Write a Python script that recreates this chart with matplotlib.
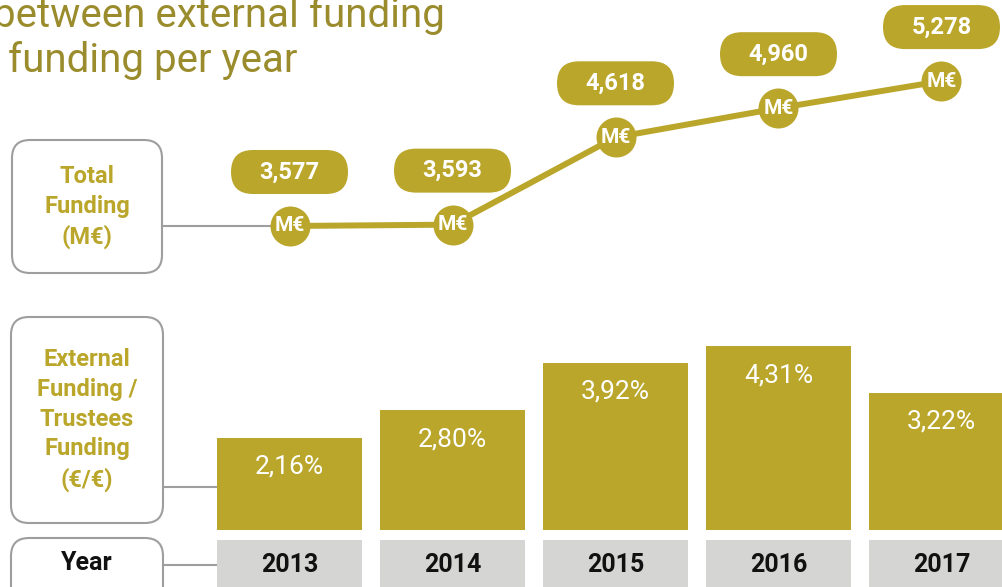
import numpy as np
import matplotlib
matplotlib.use('Agg')
import matplotlib.pyplot as plt
from matplotlib.patches import FancyBboxPatch
from matplotlib.transforms import ScaledTranslation

plt.rcParams['font.family'] = ['Roboto', 'DejaVu Sans']

# --- data ---
years = ['2013', '2014', '2015', '2016', '2017']
total_funding = [3577, 3593, 4618, 4960, 5278]          # M€
total_labels = ['3,577', '3,593', '4,618', '4,960', '5,278']
ratio_pct = [2.16, 2.80, 3.92, 4.31, 3.22]              # external / trustees funding
ratio_labels = ['2,16%', '2,80%', '3,92%', '4,31%', '3,22%']

GOLD = '#BAA62A'
TITLE = '#9A8C2C'
FRAME = '#9E9E9E'
YEARBOX = '#D5D6D3'

W, H = 1003, 587
fig = plt.figure(figsize=(W / 100, H / 100), dpi=100)

# pixel-space layer for frames, connectors and title
ax_px = fig.add_axes([0, 0, 1, 1])
ax_px.set_xlim(0, W)
ax_px.set_ylim(H, 0)
ax_px.axis('off')

x = np.arange(len(years))
# category i is centred at 289.5 + 163*i px
xlim = (-289.5 / 163, (W - 289.5) / 163)

# --- bars ---
px_per_pct = 42.7
base = 57  # px from bottom
ax_bar = fig.add_axes([0, 0, 1, 1])
ax_bar.set_xlim(xlim)
ax_bar.set_ylim(-base / px_per_pct, (H - base) / px_per_pct)
ax_bar.axis('off')

ax_bar.bar(x, ratio_pct, width=0.89, color=GOLD, linewidth=0)
for xi, v, lbl in zip(x, ratio_pct, ratio_labels):
    ax_bar.annotate(lbl, (xi, v), xytext=(0, -21), textcoords='offset points',
                    ha='center', va='center', color='white', fontsize=19)

# year row
year_top = (47 - base) / px_per_pct
ax_bar.bar(x, year_top + 1.6, bottom=-1.6, width=0.89, color=YEARBOX, linewidth=0)
for xi, yr in zip(x, years):
    ax_bar.text(xi, (22 - base) / px_per_pct, yr, ha='center', va='center',
                fontsize=18, fontweight='bold', color='#111111')

# --- total funding line ---
px_per_meur = 0.0852
ax_line = fig.add_axes([0, 0, 1, 1])
ax_line.set_xlim(xlim)
ax_line.set_ylim(3577 - 361 / px_per_meur, 3577 + 226 / px_per_meur)
ax_line.axis('off')

ax_line.plot(x, total_funding, color=GOLD, lw=4.3, marker='o', ms=28.8,
             mew=0, solid_capstyle='round')
for xi, v, lbl in zip(x, total_funding, total_labels):
    ax_line.text(xi, v, 'M€', ha='center', va='center', color='white',
                 fontsize=15, fontweight='bold')
    tr = fig.dpi_scale_trans + ScaledTranslation(xi, v, ax_line.transData)
    pill = FancyBboxPatch((-0.585, 0.54 - 0.22), 1.17, 0.44,
                          boxstyle='round,pad=0,rounding_size=0.22',
                          fc=GOLD, ec='none', transform=tr)
    ax_line.add_patch(pill)
    ax_line.annotate(lbl, (xi, v), xytext=(0, 54 * 0.72), textcoords='offset points',
                     ha='center', va='center', color='white', fontsize=17,
                     fontweight='bold')

# --- left row headers ---
def frame(x0, y0, x1, y1):
    ax_px.add_patch(FancyBboxPatch((x0, y0), x1 - x0, y1 - y0,
                                   boxstyle='round,pad=0,rounding_size=18',
                                   fc='white', ec=FRAME, lw=1.5))

frame(12, 140, 162, 273)
frame(11, 317, 163, 523)
frame(11, 538, 163, 620)

ax_px.plot([162, 285], [226, 226], color=FRAME, lw=1.5)
ax_px.plot([163, 216], [487, 487], color=FRAME, lw=1.5)
ax_px.plot([163, 216], [565, 565], color=FRAME, lw=1.5)

ax_px.text(87, 207, 'Total\nFunding\n(M€)', ha='center', va='center',
           color=GOLD, fontsize=17, fontweight='bold', linespacing=1.38)
ax_px.text(87, 420, 'External\nFunding /\nTrustees\nFunding\n(€/€)', ha='center',
           va='center', color=GOLD, fontsize=17, fontweight='bold', linespacing=1.38)
ax_px.text(87, 563, 'Year', ha='center', va='center', color='#111111',
           fontsize=18, fontweight='bold')

# title (cut off by the crop in the reference)
ax_px.text(-7, 27, 'between external funding', ha='left', va='baseline',
           color=TITLE, fontsize=29)
ax_px.text(8, 72, 'funding per year', ha='left', va='baseline',
           color=TITLE, fontsize=29)

fig.savefig('out.png', dpi=100)
